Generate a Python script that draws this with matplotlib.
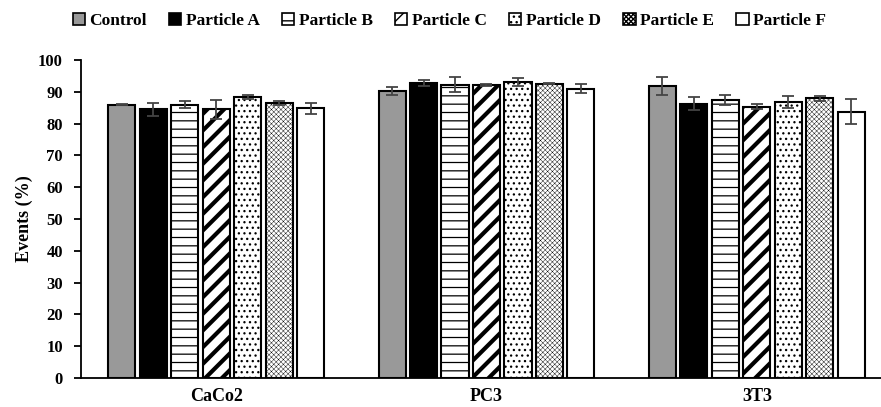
import numpy as np
import matplotlib.pyplot as plt
from matplotlib.patches import Patch

plt.rcParams["font.family"] = ["Liberation Serif", "DejaVu Serif"]
plt.rcParams["font.weight"] = "bold"

# data
cells = ["CaCo2", "PC3", "3T3"]
groups = ["Control", "Particle A", "Particle B", "Particle C",
          "Particle D", "Particle E", "Particle F"]

control = [86.0, 90.2, 91.8]
part_a = [84.5, 92.7, 86.3]
part_b = [86.0, 92.2, 87.5]
part_c = [84.5, 92.2, 85.3]
part_d = [88.3, 93.0, 86.8]
part_e = [86.5, 92.5, 88.0]
part_f = [84.8, 91.0, 83.8]

err_control = [0.2, 1.2, 2.7]
err_a = [2.0, 1.0, 2.0]
err_b = [1.0, 2.3, 1.5]
err_c = [3.0, 0.3, 0.8]
err_d = [0.7, 1.3, 2.0]
err_e = [0.7, 0.2, 0.8]
err_f = [1.7, 1.3, 4.0]

values = [control, part_a, part_b, part_c, part_d, part_e, part_f]
errors = [err_control, err_a, err_b, err_c, err_d, err_e, err_f]

faces = ["#999999", "black", "white", "white", "white", "white", "white"]
hatches = [None, None, "--", "//", "...", "xxxxxxx", None]
hatch_lw = [1.0, 1.0, 0.9, 3.0, 0.9, 0.3, 1.0]

fig = plt.figure(figsize=(8.81, 4.07), dpi=100)
ax = fig.add_axes([81 / 881, 29 / 407, 811 / 881, 318 / 407])

x = np.arange(len(cells))
step = 0.1165
width = 0.1
for i in range(len(groups)):
    pos = x + (i - 3) * step
    with plt.rc_context({"hatch.linewidth": hatch_lw[i]}):
        ax.bar(pos, values[i], width, color=faces[i], edgecolor="black",
               linewidth=1.5, hatch=hatches[i], label=groups[i])
    ax.errorbar(pos, values[i], yerr=errors[i], fmt="none",
                ecolor="#444444", elinewidth=1.3, capsize=4, capthick=1.3)

ax.set_xlim(-0.5, 2.5)
ax.set_ylim(0, 100)
ax.set_yticks(range(0, 101, 10))
ax.set_xticks(x)
ax.set_xticklabels(cells, fontsize=13, fontweight="bold")
ax.tick_params(axis="x", length=0, pad=7)
ax.tick_params(axis="y", direction="out", length=5, width=1.3,
               labelsize=12, pad=8)
for lab in ax.get_yticklabels():
    lab.set_fontweight("bold")
ax.spines["top"].set_visible(False)
ax.spines["right"].set_visible(False)
ax.spines["left"].set_linewidth(1.3)
ax.spines["bottom"].set_linewidth(1.3)
ax.set_ylabel("Events (%)", fontsize=13, fontweight="bold", labelpad=4)

handles = []
for i in range(len(groups)):
    with plt.rc_context({"hatch.linewidth": min(hatch_lw[i], 1.0)}):
        handles.append(Patch(facecolor=faces[i], edgecolor="black",
                             linewidth=1.2, hatch=hatches[i], label=groups[i]))
fig.legend(handles=handles, loc="center", bbox_to_anchor=(0.51, 0.948),
           ncol=7, frameon=False, handlelength=0.7,
           handleheight=0.7, handletextpad=0.25, columnspacing=1.3,
           prop={"weight": "bold", "size": 12.5})

fig.savefig("out.png", dpi=100)
